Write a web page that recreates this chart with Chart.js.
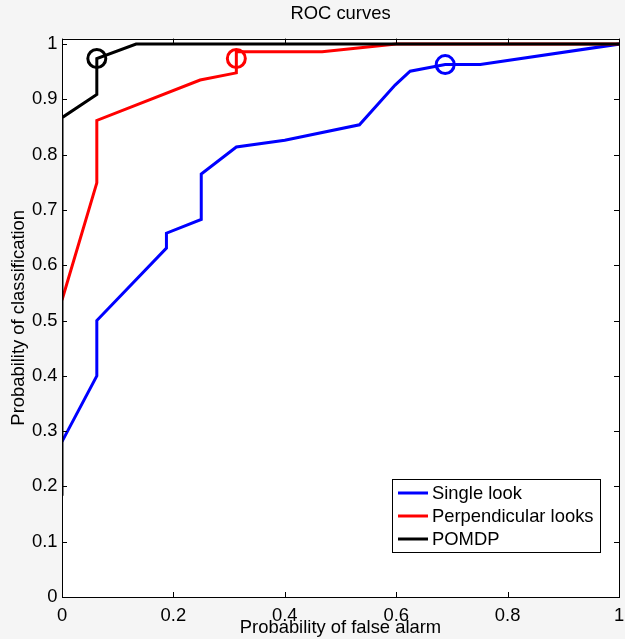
<!DOCTYPE html>
<html>
<head>
<meta charset="utf-8">
<title>ROC curves</title>
<script src="https://cdn.jsdelivr.net/npm/chart.js@4.4.1/dist/chart.umd.min.js"></script>
<style>
    html, body { margin: 0; padding: 0; background: #f5f5f5; overflow: hidden; }
    #wrap { position: absolute; left: 0; top: 0; width: 640px; height: 639px; }
</style>
</head>
<body>
<div id="wrap"><canvas id="roc-chart" width="640" height="639"></canvas></div>
<script>
const seriesNames = ['Single look', 'Perpendicular looks', 'POMDP'];
const seriesColors = ['#0000ff', '#ff0000', '#000000'];

const singleX = [0, 0.0625, 0.0625, 0.1875, 0.1875, 0.25, 0.25, 0.313, 0.40, 0.534, 0.598, 0.625, 0.688, 0.751, 1];
const singleY = [0.281, 0.400, 0.500, 0.631, 0.658, 0.683, 0.765, 0.814, 0.826, 0.854, 0.926, 0.951, 0.963, 0.963, 1];

const perpX = [0, 0.0625, 0.0625, 0.248, 0.313, 0.313, 0.467, 0.60, 1];
const perpY = [0.537, 0.749, 0.862, 0.935, 0.948, 0.986, 0.986, 1, 1];

const pomdpX = [0, 0, 0.0625, 0.0625, 0.133, 1];
const pomdpY = [0.183, 0.867, 0.909, 0.974, 1, 1];

// operating points marked with open circles
const markerX = [0.688, 0.313, 0.0625];
const markerY = [0.963, 0.974, 0.974];

const xTickValues = [0, 0.2, 0.4, 0.6, 0.8, 1];
const xTickLabels = ['0', '0.2', '0.4', '0.6', '0.8', '1'];
const yTickValues = [0, 0.1, 0.2, 0.3, 0.4, 0.5, 0.6, 0.7, 0.8, 0.9, 1];
const yTickLabels = ['0', '0.1', '0.2', '0.3', '0.4', '0.5', '0.6', '0.7', '0.8', '0.9', '1'];

const FONT = "'Liberation Sans', Arial, Helvetica, sans-serif";
const FONT_SIZE = 18.4;

function toPoints(xs, ys) {
    return xs.map((x, i) => ({ x: x, y: ys[i] }));
}

const lineSets = [[singleX, singleY], [perpX, perpY], [pomdpX, pomdpY]].map(function(s, i) {
    return {
        label: seriesNames[i],
        data: toPoints(s[0], s[1]),
        showLine: true,
        borderColor: seriesColors[i],
        backgroundColor: seriesColors[i],
        borderWidth: 3,
        pointRadius: 0,
        tension: 0,
        order: 3 - i
    };
});

const markerSet = {
    label: 'markers',
    data: toPoints(markerX, markerY),
    showLine: false,
    pointStyle: 'circle',
    pointRadius: 9,
    pointBorderWidth: 3,
    pointBorderColor: seriesColors,
    pointBackgroundColor: 'rgba(0,0,0,0)',
    order: 0,
    isMarker: true
};

// white axes background + box + inward ticks on all four sides
const axesBox = {
    id: 'axesBox',
    beforeDatasetsDraw(chart) {
        const a = chart.chartArea;
        const ctx = chart.ctx;
        ctx.save();
        ctx.fillStyle = '#ffffff';
        ctx.fillRect(a.left, a.top, a.right - a.left, a.bottom - a.top);
        ctx.restore();
    },
    afterDraw(chart) {
        const a = chart.chartArea;
        const ctx = chart.ctx;
        const len = 5;
        ctx.save();
        ctx.strokeStyle = '#000';
        ctx.lineWidth = 1;
        ctx.beginPath();
        chart.scales.x.ticks.forEach(function(t) {
            const px = Math.round(chart.scales.x.getPixelForValue(t.value)) + 0.5;
            ctx.moveTo(px, a.bottom); ctx.lineTo(px, a.bottom - len);
            ctx.moveTo(px, a.top); ctx.lineTo(px, a.top + len);
        });
        chart.scales.y.ticks.forEach(function(t) {
            const py = Math.round(chart.scales.y.getPixelForValue(t.value)) + 0.5;
            ctx.moveTo(a.left, py); ctx.lineTo(a.left + len, py);
            ctx.moveTo(a.right, py); ctx.lineTo(a.right - len, py);
        });
        ctx.stroke();
        ctx.strokeRect(Math.round(a.left) + 0.5, Math.round(a.top) + 0.5,
            Math.round(a.right - a.left), Math.round(a.bottom - a.top));
        ctx.restore();
    }
};

// MATLAB style boxed legend in the lower right of the axes
const boxLegend = {
    id: 'boxLegend',
    afterDraw(chart) {
        const a = chart.chartArea;
        const ctx = chart.ctx;
        const sets = chart.data.datasets.filter(d => !d.isMarker);
        const boxW = 208, rowH = 23;
        const boxH = sets.length * rowH + 4;
        const right = a.right - 19, bottom = a.bottom - 45;
        const left = right - boxW, top = bottom - boxH;
        ctx.save();
        ctx.fillStyle = '#fff';
        ctx.fillRect(left, top, boxW, boxH);
        ctx.strokeStyle = '#000';
        ctx.lineWidth = 1;
        ctx.strokeRect(Math.round(left) + 0.5, Math.round(top) + 0.5, boxW, boxH);
        ctx.font = FONT_SIZE + 'px ' + FONT;
        ctx.textBaseline = 'middle';
        ctx.textAlign = 'left';
        sets.forEach(function(d, i) {
            const y = top + 14 + i * rowH;
            ctx.strokeStyle = d.borderColor;
            ctx.lineWidth = 3;
            ctx.beginPath();
            ctx.moveTo(left + 6, y);
            ctx.lineTo(left + 36, y);
            ctx.stroke();
            ctx.fillStyle = '#000';
            ctx.fillText(d.label, left + 40, y + 1);
        });
        ctx.restore();
    }
};

new Chart(document.getElementById('roc-chart').getContext('2d'), {
    type: 'scatter',
    data: {
        datasets: lineSets.concat([markerSet])
    },
    options: {
        responsive: false,
        animation: false,
        layout: { padding: { left: 0, right: 21, top: 0, bottom: 0 } },
        plugins: {
            legend: { display: false },
            tooltip: { enabled: false },
            title: {
                display: true,
                text: 'ROC curves',
                fullSize: false,
                color: '#000',
                font: { family: FONT, size: FONT_SIZE, weight: 'normal' },
                padding: { top: 2.5, bottom: 14 }
            }
        },
        scales: {
            x: {
                type: 'linear',
                min: 0,
                max: 1,
                afterBuildTicks: scale => { scale.ticks = xTickValues.map(v => ({ value: v })); },
                afterFit: scale => { scale.height = 42; },
                grid: { display: false, drawTicks: false },
                border: { display: false },
                ticks: {
                    color: '#000',
                    padding: 7.5,
                    maxRotation: 0,
                    font: { family: FONT, size: FONT_SIZE },
                    callback: (v, i) => xTickLabels[i]
                },
                title: {
                    display: true,
                    text: 'Probability of false alarm',
                    color: '#000',
                    font: { family: FONT, size: FONT_SIZE },
                    padding: { top: 0, bottom: 0 }
                }
            },
            y: {
                type: 'linear',
                min: 0,
                max: 1.01,
                afterBuildTicks: scale => { scale.ticks = yTickValues.map(v => ({ value: v })); },
                afterFit: scale => { scale.width = 62; },
                grid: { display: false, drawTicks: false },
                border: { display: false },
                ticks: {
                    color: '#000',
                    padding: 4.5,
                    font: { family: FONT, size: FONT_SIZE },
                    callback: (v, i) => yTickLabels[i]
                },
                title: {
                    display: true,
                    text: 'Probability of classification',
                    color: '#000',
                    font: { family: FONT, size: FONT_SIZE },
                    padding: { top: 8, bottom: 0 }
                }
            }
        }
    },
    plugins: [axesBox, boxLegend]
});
</script>
</body>
</html>
